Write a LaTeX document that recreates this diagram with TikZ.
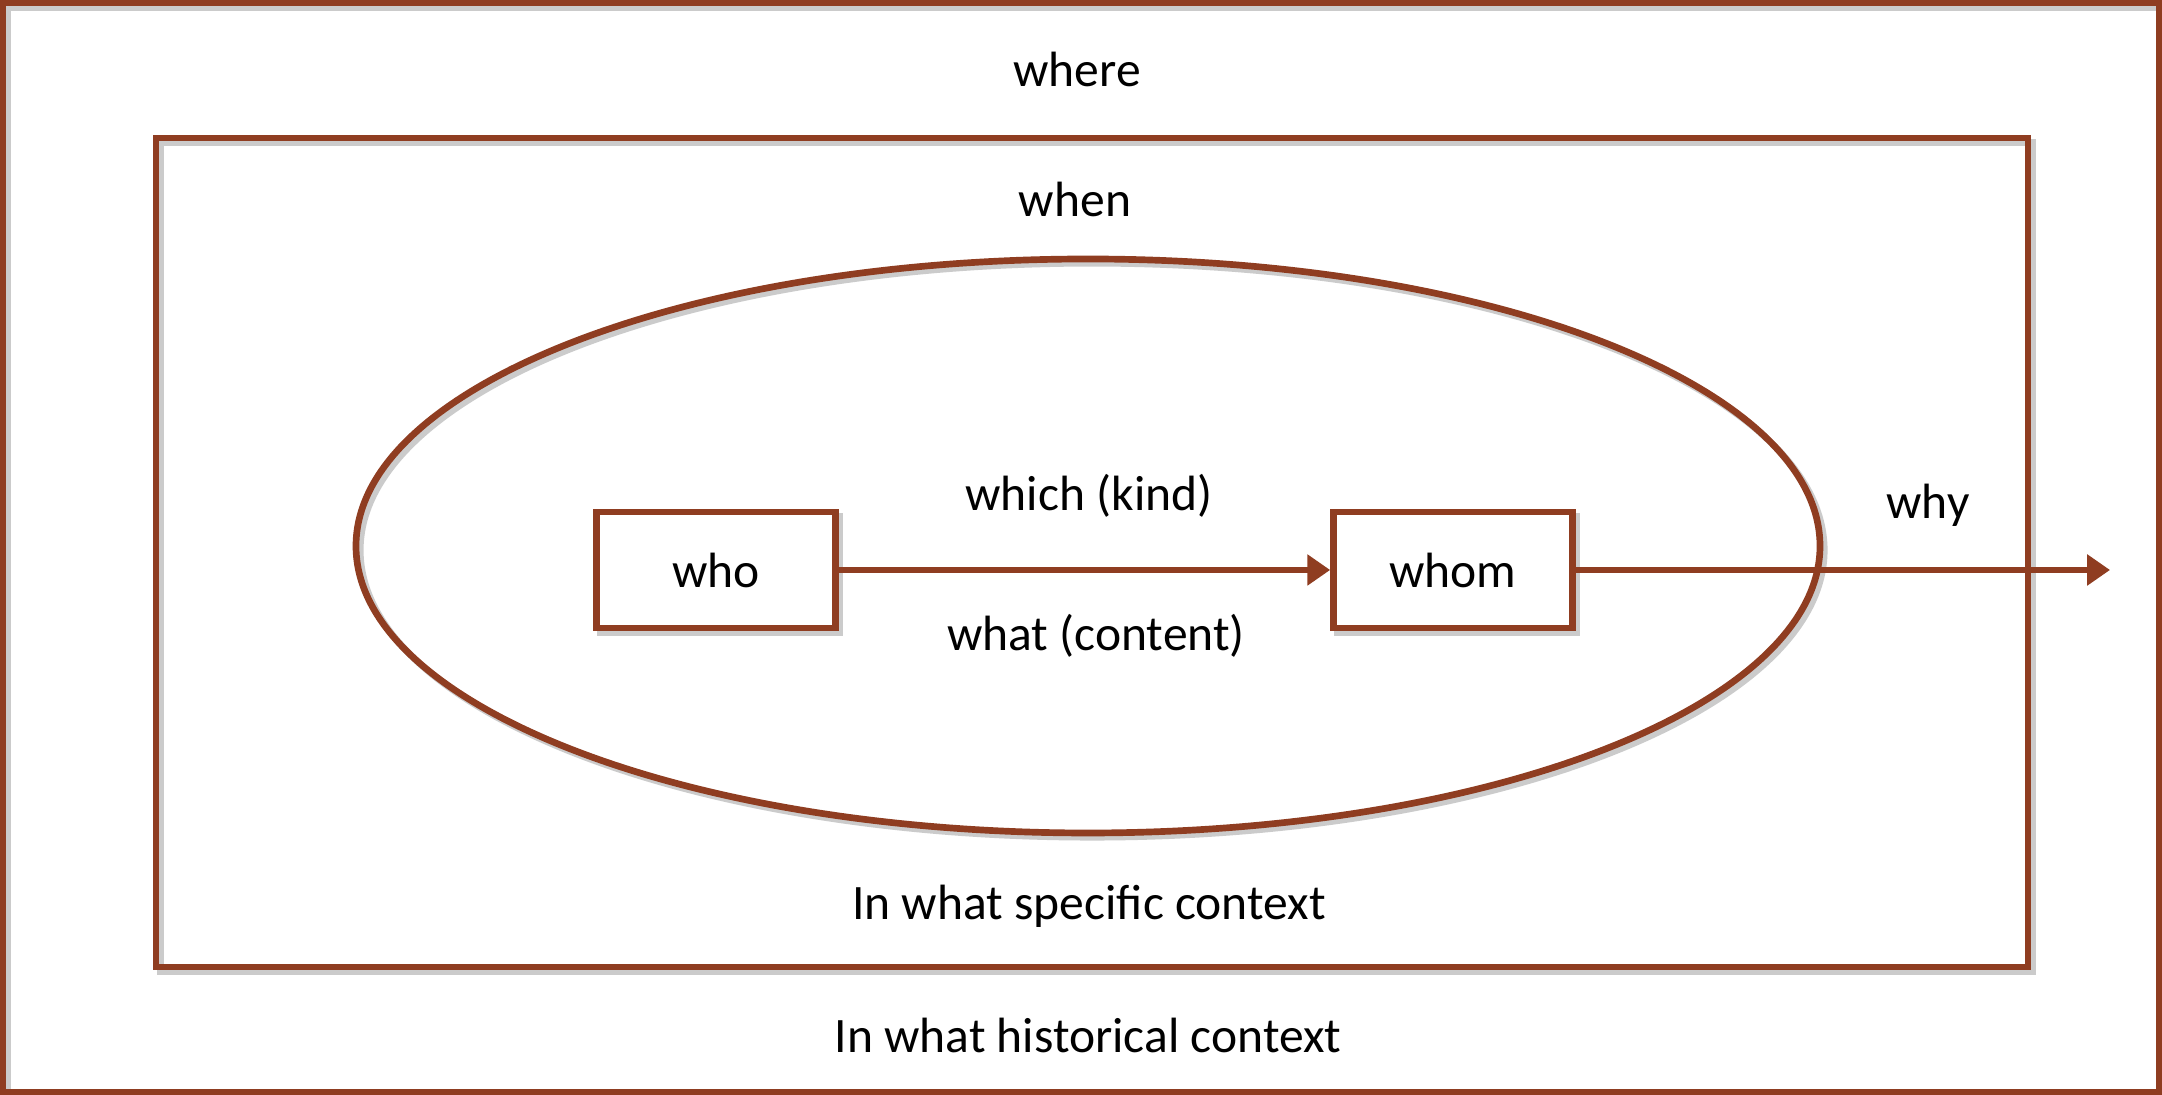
\documentclass[tikz,border=0pt]{standalone}
\usepackage{fontspec}
\setmainfont{Carlito}
\usetikzlibrary{arrows.meta}
\usetikzlibrary{positioning}
\usetikzlibrary{shapes.geometric}

\definecolor{rust}{RGB}{143,61,33}
\tikzset{
  frame/.style={draw=rust, line width=1.9pt,
    preaction={draw=black!45, opacity=.45, line width=1.9pt, transform canvas={shift={(1.2pt,-1.2pt)}}}},
  wbox/.style={frame, rectangle, fill=white, minimum width=2.39cm, minimum height=1.16cm, inner sep=0pt},
  lbl/.style={font=\fontsize{14.1}{17}\selectfont},
  flow/.style={draw=rust, line width=1.9pt, -{Triangle[length=6.5pt, width=8.5pt]}}
}

\begin{document}
\begin{tikzpicture}
\useasboundingbox (0,0) rectangle (21.62,10.95);
\fill[white] (0,0) rectangle (21.62,10.95);

% outer frame and the specific-context box
\draw[frame] (0.03,0.03) rectangle (21.59,10.92);
\node[frame, rectangle, minimum width=18.72cm, minimum height=8.29cm, inner sep=0pt] (inner) at (10.92,5.425) {};
\node[frame, ellipse, minimum width=14.64cm, minimum height=5.74cm, inner sep=0pt] (ctx) at (10.88,5.49) {};

\node[lbl] (where) at (10.77,10.26) {where};
\node[lbl] (when) at (10.75,8.96) {when};
\node[lbl] (specific) at (10.89,1.89) {In what specific context};
\node[lbl] (historical) at (10.88,0.60) {In what historical context};

\node[wbox, lbl] (who) at (7.16,5.25) {who};
\node[wbox, lbl] (whom) at (14.53,5.25) {whom};
\coordinate (why end) at (21.10,5.25);

\draw[flow] (who) -- (whom);
\draw[flow] (whom) -- (why end);

\node[lbl] (which) at (10.89,5.99) {which (kind)};
\node[lbl] (what) at (10.96,4.59) {what (content)};
\node[lbl] (why) at (19.28,5.90) {why};

\end{tikzpicture}
\end{document}
